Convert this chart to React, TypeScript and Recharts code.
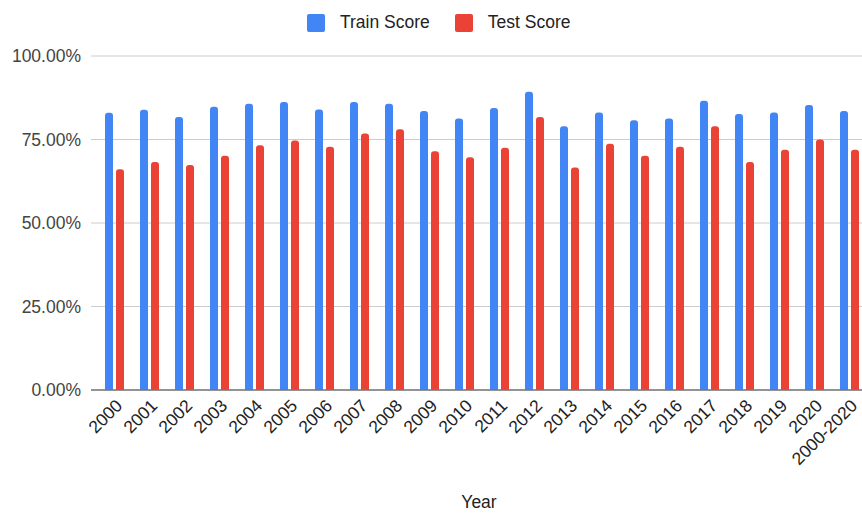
import React from 'react';
import { BarChart, Bar, XAxis, YAxis, CartesianGrid, Legend } from 'recharts';

const years = ['2000','2001','2002','2003','2004','2005','2006','2007','2008','2009','2010','2011','2012','2013','2014','2015','2016','2017','2018','2019','2020','2000-2020'];
const trainScore = [83.0,83.9,81.7,84.8,85.7,86.2,84.0,86.2,85.7,83.5,81.3,84.4,89.3,79.0,83.1,80.8,81.3,86.6,82.6,83.1,85.3,83.5];
const testScore = [66.1,68.3,67.4,70.1,73.3,74.7,72.8,76.8,78.1,71.5,69.7,72.5,81.7,66.6,73.7,70.1,72.8,79.0,68.3,71.9,75.0,71.9];
const yTicks = [0, 25, 50, 75, 100];

const seriesNames = ['Train Score', 'Test Score'];
const seriesColors = ['#4285F4', '#EA4335'];

const data = years.map((y, i) => ({ year: y, train: trainScore[i], test: testScore[i] }));

const FONT = '"Liberation Sans", Arial, sans-serif';

const LegendContent = () => (
  <div style={{ display: 'flex', alignItems: 'center', fontFamily: FONT, fontSize: 17.5, color: '#222' }}>
    {seriesNames.map((n, i) => (
      <div key={n} style={{ display: 'flex', alignItems: 'center', marginRight: 25 }}>
        <div style={{ width: 18, height: 18, borderRadius: 2, background: seriesColors[i] }} />
        <span style={{ marginLeft: 15, whiteSpace: 'nowrap' }}>{n}</span>
      </div>
    ))}
  </div>
);

export default function App() {
  return (
    <div style={{ position: 'fixed', left: 0, top: 0, width: 862, height: 513, overflow: 'hidden', background: '#fff' }}>
      <BarChart
        width={867}
        height={513}
        data={data}
        margin={{ top: 56, right: 0, bottom: 0, left: 0 }}
        barSize={8}
        barGap={3}
        style={{ fontFamily: FONT }}
      >
        <CartesianGrid vertical={false} stroke="#cccccc" />
        <XAxis
          dataKey="year"
          interval={0}
          angle={-45}
          textAnchor="end"
          height={123}
          padding={{ left: 6, right: 0 }}
          tickLine={false}
          axisLine={{ stroke: '#777', strokeWidth: 1.5 }}
          tick={{ fontSize: 17.5, fill: '#222', fontFamily: FONT }}
          label={{ value: 'Year', position: 'insideBottom', offset: 5, fontSize: 17.5, fill: '#222', fontFamily: FONT }}
        />
        <YAxis
          width={91}
          domain={[0, 100]}
          ticks={yTicks}
          tickFormatter={(v: number) => v.toFixed(2) + '%'}
          axisLine={false}
          tickLine={false}
          tickMargin={4}
          tick={{ fontSize: 17.5, fill: '#444', fontFamily: FONT }}
        />
        <Legend
          verticalAlign="middle"
          layout="horizontal"
          wrapperStyle={{ top: 12, left: 307, width: 400, height: 20 }}
          content={<LegendContent />}
        />
        <Bar dataKey="train" name="Train Score" fill={seriesColors[0]} radius={[3, 3, 0, 0]} isAnimationActive={false} />
        <Bar dataKey="test" name="Test Score" fill={seriesColors[1]} radius={[3, 3, 0, 0]} isAnimationActive={false} />
      </BarChart>
    </div>
  );
}
